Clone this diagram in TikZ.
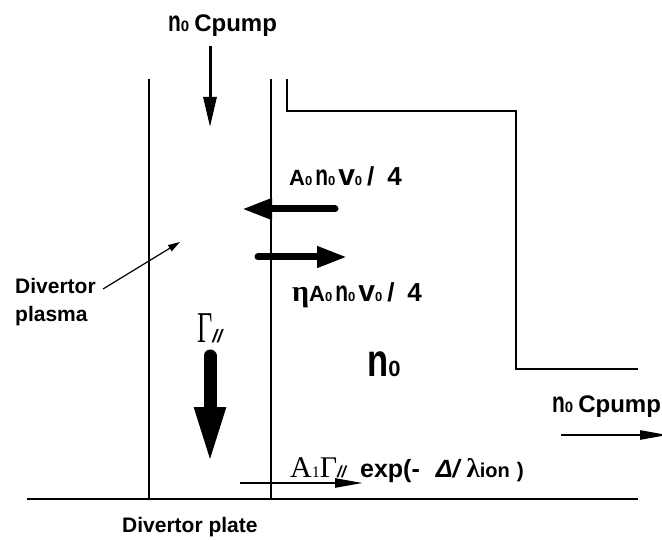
\documentclass[tikz,border=0pt]{standalone}
\usepackage{fontspec}
\usepackage{graphicx}
\setmainfont{Liberation Sans}
\newfontfamily\serifgr{Liberation Serif}
\usetikzlibrary{arrows.meta}
\newcommand{\sz}[2]{{\fontsize{#1}{#1}\selectfont #2}}
\newcommand{\bigN}[1]{\scalebox{0.72}[1]{\sz{29}{#1}}}
\newcommand{\fluxtext}{\sz{22}{A}\sz{13}{0}\hspace{3pt}\bigN{n}\sz{13}{0}\hspace{3pt}\sz{30}{v}\sz{13}{0}\hspace{5pt}\sz{26}{/\hspace{13pt}4}}
\newcommand{\pumptext}{\bigN{n}\sz{15}{0}\hspace{5pt}\sz{24}{C}\sz{24}{pump}}
\begin{document}
\begin{tikzpicture}[x=1pt,y=-1pt,
  lab/.style={anchor=base west,inner sep=0pt,font=\bfseries},
  wall/.style={line width=1.3pt},
  flowarrow/.style={-{Triangle[length=28pt,width=9pt]},line width=2.5pt},
  fatarrow/.style={-{Triangle[length=30pt,width=20pt]},line width=7pt,line cap=round}]
  \clip (0,0) rectangle (662,540);
  % walls and plate
  \draw[wall] (27,499) -- (638,499);
  \draw[wall] (149,79) -- (149,499);
  \draw[wall] (271,79) -- (271,499);
  \draw[wall] (287,79) -- (287,111) -- (516,111) -- (516,369) -- (638,369);
  % labels
  \node[lab] (pumptop) at (168,32) {\pumptext};
  \node[lab] (influx) at (289,186) {\fluxtext};
  \node[lab] (outflux) at (292,302) {{\serifgr\sz{30}{η}}\fluxtext};
  \node[lab,align=left,font=\bfseries\fontsize{21}{28}\selectfont] (plasma) at (15,322) {Divertor\\plasma};
  \node[lab] (gamma) at (197,342) {\scalebox{0.6}[1]{\serifgr\mdseries\sz{44}{Γ}}\sz{18}{\itshape//}};
  \node[lab] (dens) at (367,377) {\scalebox{0.75}[1]{\sz{46}{n}}\sz{22}{0}};
  \node[lab] (pumpside) at (552,413) {\pumptext};
  \node[lab] (leak) at (290,477) {{\serifgr\mdseries\sz{30}{A}\sz{16}{1}\sz{30}{Γ}}\sz{16}{\itshape//}\hspace{14pt}\sz{25}{exp(-}\hspace{16pt}\sz{25}{\itshape Δ/}\hspace{7pt}{\serifgr\sz{27}{λ}}\sz{20}{ion}\hspace{7pt}\sz{21}{)}};
  \node[lab] (plate) at (122,532) {\sz{21}{Divertor plate}};
  % flows
  \draw[-{Triangle[length=30pt,width=13pt]},line width=3pt] (210,46) -- (210,127);
  \draw[fatarrow] (335,209) -- (242,209);
  \draw[fatarrow] (258,257) -- (347,257);
  \draw[-{Triangle[length=58pt,width=28pt]},line width=13pt,line cap=round] (210,356) -- (210,465);
  \draw[flowarrow] (240,483) -- (363,483);
  \draw[flowarrow] (561,435) -- (668,435);
  \draw[-{Triangle[length=12pt,width=7pt]},line width=1.2pt] (103,289) -- (180,242);
\end{tikzpicture}
\end{document}
